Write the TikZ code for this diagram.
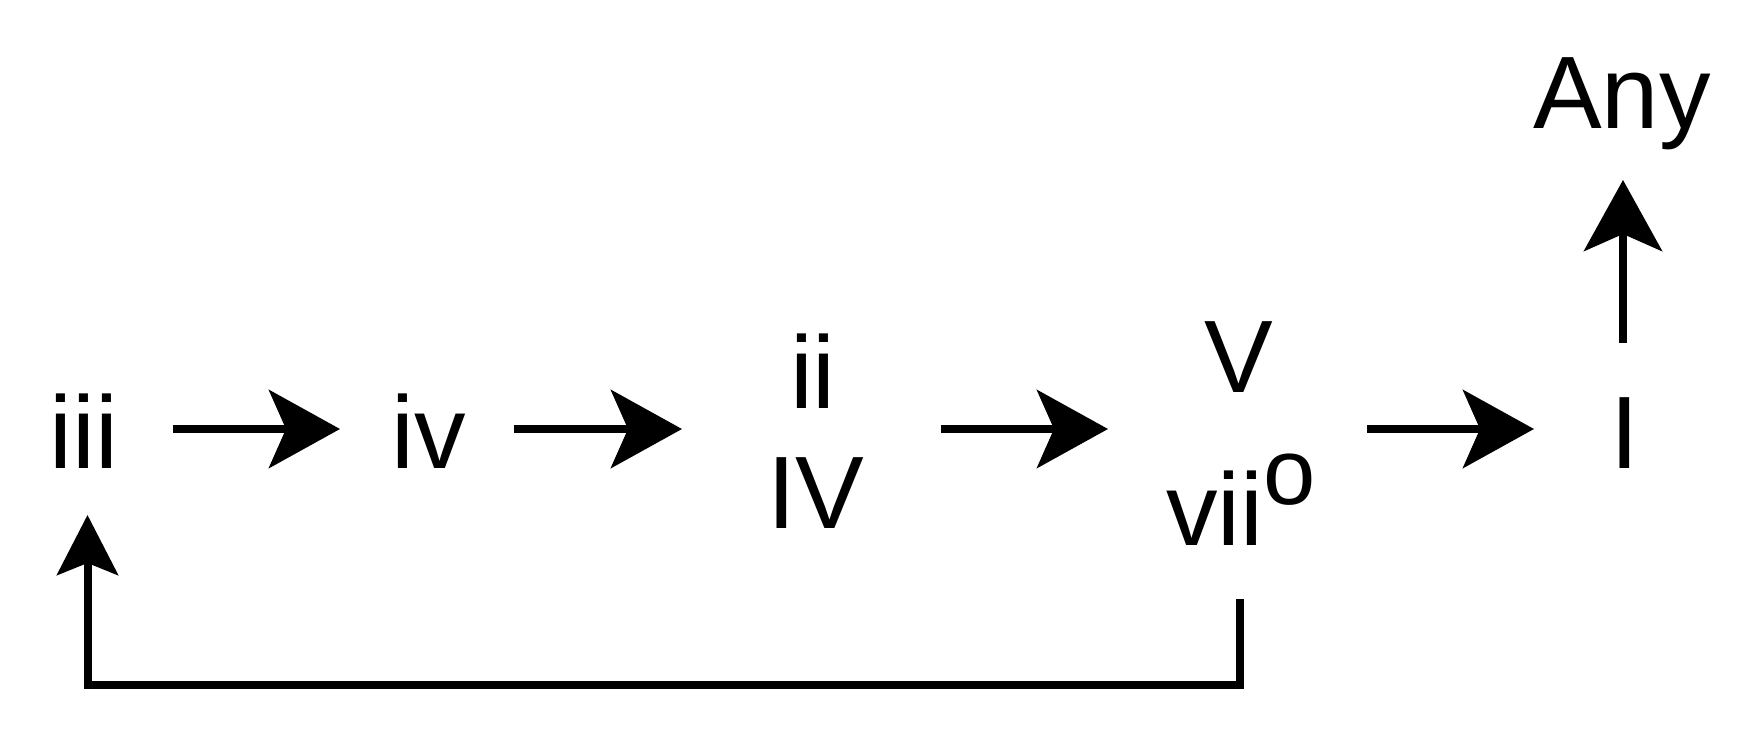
\documentclass[tikz,border=0pt]{standalone}
\usepackage{fontspec}
\setmainfont{Liberation Sans}
\usetikzlibrary{arrows.meta}
\tikzset{
  lbl/.style={anchor=base, inner sep=0pt, font=\fontsize{103}{120}\selectfont},
  conn/.style={line width=8pt, -{Stealth[length=71pt,width=78pt,inset=17pt]}},
  loopconn/.style={line width=8pt, miter limit=10, -{Stealth[length=60pt,width=61pt,inset=12pt]}}
}
\begin{document}
\begin{tikzpicture}[x=1pt,y=-1pt]
\useasboundingbox (0,0) rectangle (1756,752);
\node[lbl] (iii) at (84,468) {iii};
\node[lbl] (iv) at (429,468) {iv};
\node[lbl] (ii) at (813,408) {ii};
\node[lbl] (IV) at (816,528) {IV};
\node[lbl] (V) at (1239,392) {V};
\node[lbl] (vii) at (1241,545) {vii\raisebox{41pt}{\fontsize{94}{100}\selectfont o}};
\node[lbl] (I) at (1625,468) {I};
\node[lbl] (any) at (1622,128) {Any};
\draw[conn] ([xshift=89pt,yshift=39pt]iii.base) -- ([xshift=-89pt,yshift=39pt]iv.base);
\draw[conn] ([xshift=85pt,yshift=39pt]iv.base) -- ([xshift=-131pt,yshift=-21pt]ii.base);
\draw[conn] ([xshift=128pt,yshift=-21pt]ii.base) -- ([xshift=-131pt,yshift=-37pt]V.base);
\draw[conn] ([xshift=128pt,yshift=-37pt]V.base) -- ([xshift=-91pt,yshift=39pt]I.base);
\draw[conn] ([xshift=-2pt,yshift=125pt]I.base) -- ([xshift=1pt,yshift=-52pt]any.base);
\draw[loopconn] ([xshift=-1pt,yshift=-54pt]vii.base) -- ++(0,86) -| ([xshift=3.5pt,yshift=-47pt]iii.base);
\end{tikzpicture}
\end{document}
